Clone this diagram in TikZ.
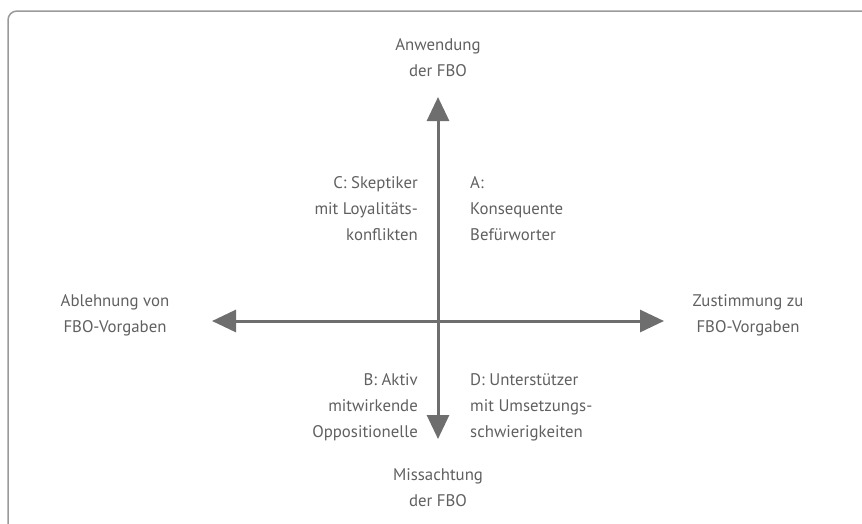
\documentclass[tikz,border=0pt]{standalone}
\usepackage{fontspec}
\setmainfont{PT Sans}
\usetikzlibrary{arrows.meta}
\definecolor{txt}{HTML}{606060}
\definecolor{arr}{HTML}{6E6E6E}
\definecolor{frame}{HTML}{9A9A9A}
\begin{document}
\begin{tikzpicture}[x=1pt,y=-1pt,
  lbl/.style={text=txt,font=\fontsize{16.8}{26}\selectfont,align=center,inner sep=0pt},
  lblr/.style={lbl,align=right},
  lbll/.style={lbl,align=left},
  axis/.style={draw=arr,line width=3pt,-{Triangle[length=24pt,width=22pt]}}]
\useasboundingbox (0,0) rectangle (862,523);
\draw[frame,line width=1.5pt,rounded corners=9pt] (8,530) -- (8,11) -- (870,11);
\coordinate (c) at (438,321);
\coordinate (l) at (212,321);
\coordinate (r) at (664,321);
\coordinate (t) at (438,97);
\coordinate (b) at (438,439);
\draw[axis] (c) -- (l);
\draw[axis] (c) -- (r);
\draw[axis] (c) -- (t);
\draw[axis] (c) -- (b);
\node[lbl] (top) at (438,58) {Anwendung\\der FBO};
\node[lbl] (bot) at (438,488) {Missachtung\\der FBO};
\node[lbl] (left) at (115,315) {Ablehnung von\\FBO-Vorgaben};
\node[lbl] (right) at (748,315) {Zustimmung zu\\FBO-Vorgaben};
\node[lblr,anchor=east] (C) at (418,209) {C: Skeptiker\\mit Loyalitäts-\\konflikten};
\node[lbll,anchor=west] (A) at (470,209) {A:\\Konsequente\\Befürworter};
\node[lblr,anchor=east] (B) at (418,407) {B: Aktiv\\mitwirkende\\Oppositionelle};
\node[lbll,anchor=west] (D) at (470,407) {D: Unterstützer\\mit Umsetzungs-\\schwierigkeiten};
\end{tikzpicture}
\end{document}
